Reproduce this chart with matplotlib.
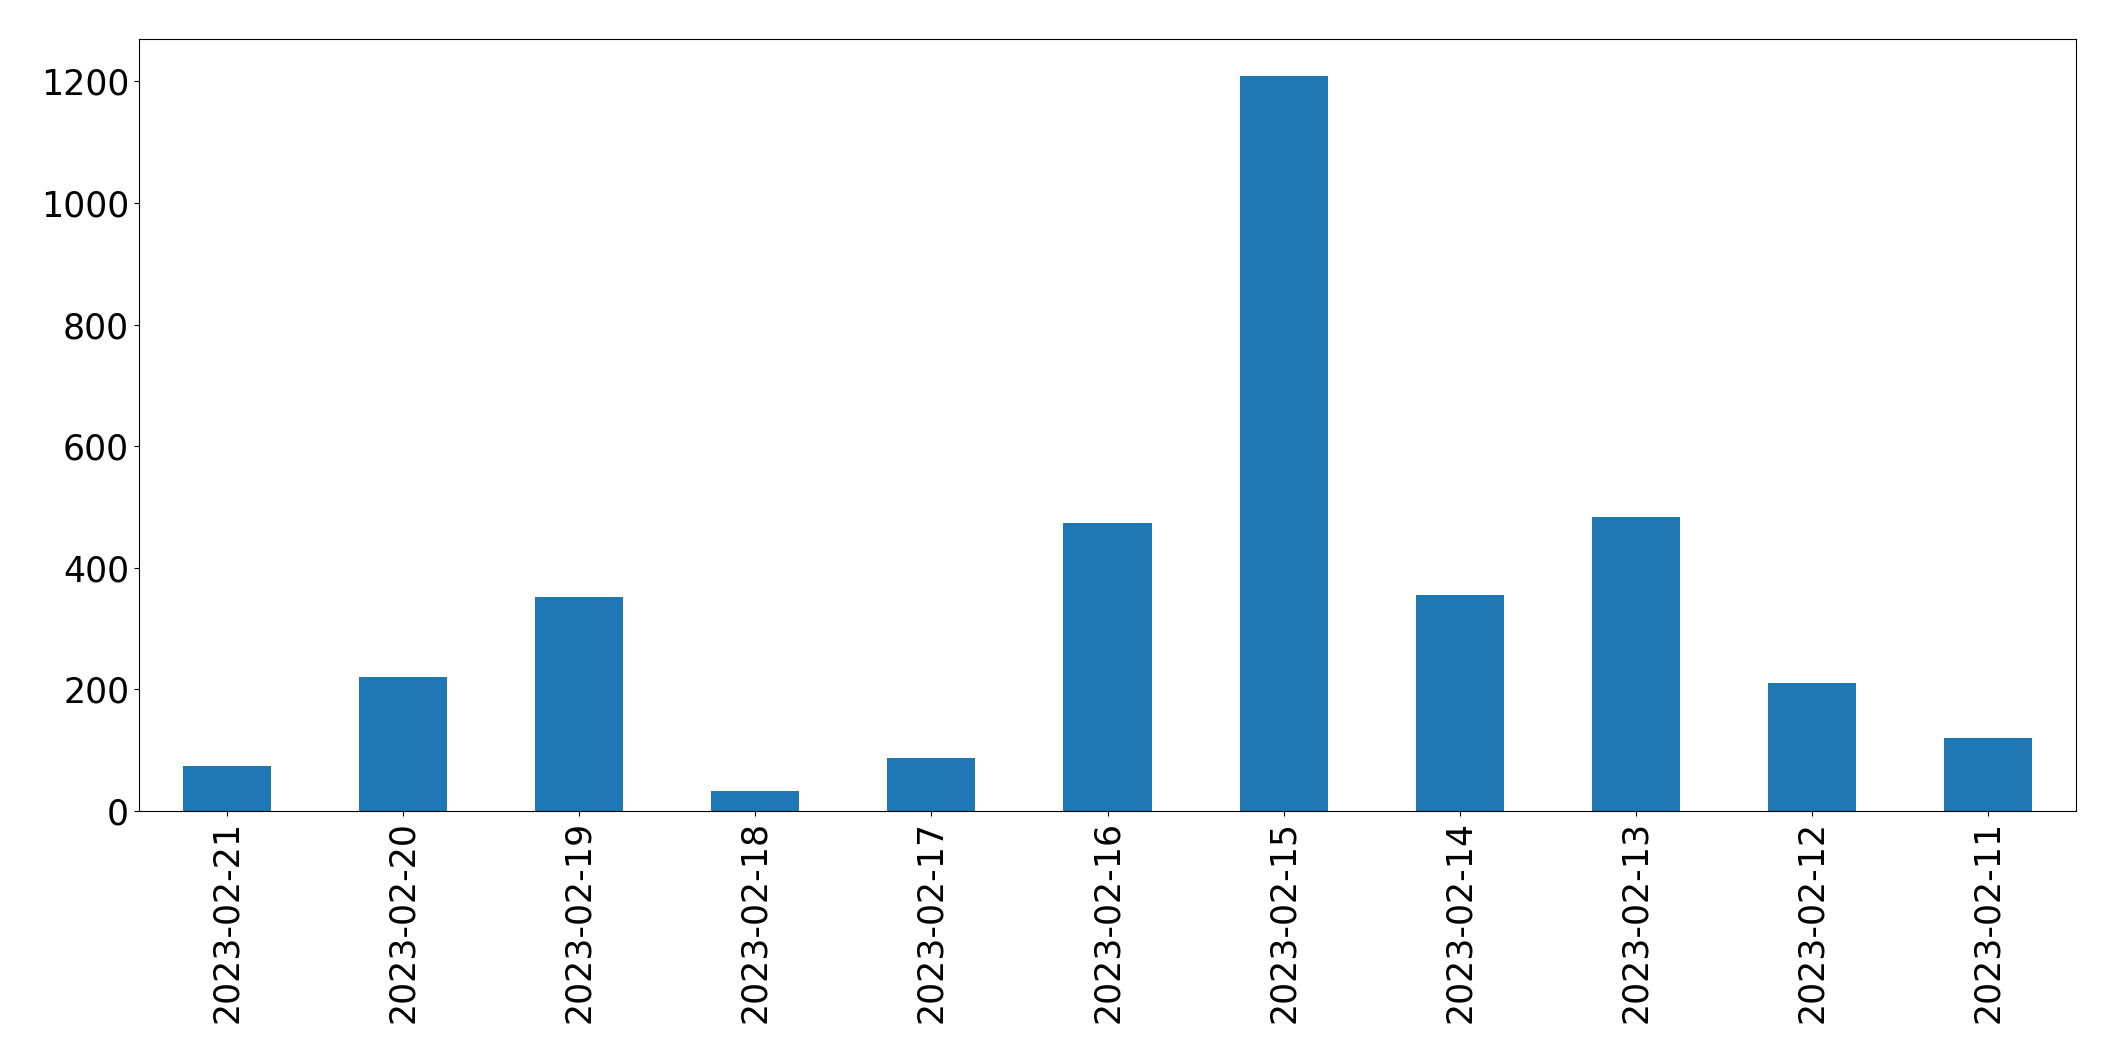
import matplotlib
matplotlib.use("Agg")
import matplotlib.pyplot as plt

# dates (x categories) and counts
dates = ['2023-02-21', '2023-02-20', '2023-02-19', '2023-02-18', '2023-02-17',
         '2023-02-16', '2023-02-15', '2023-02-14', '2023-02-13', '2023-02-12',
         '2023-02-11']
counts = [74, 220, 352, 33, 88, 474, 1209, 355, 484, 211, 120]

fig = plt.figure(figsize=(21.15, 10.61), dpi=100)
ax = fig.add_axes([0.0657, 0.2356, 0.9159, 0.7276])

x = list(range(len(dates)))
ax.bar(x, counts, width=0.5, color='#1f77b4')
ax.set_xlim(-0.5, len(dates) - 0.5)
ax.set_xticks(x)
ax.set_xticklabels(dates, rotation=90)
ax.tick_params(axis='both', labelsize=25)

fig.savefig('out.png', dpi=100)
